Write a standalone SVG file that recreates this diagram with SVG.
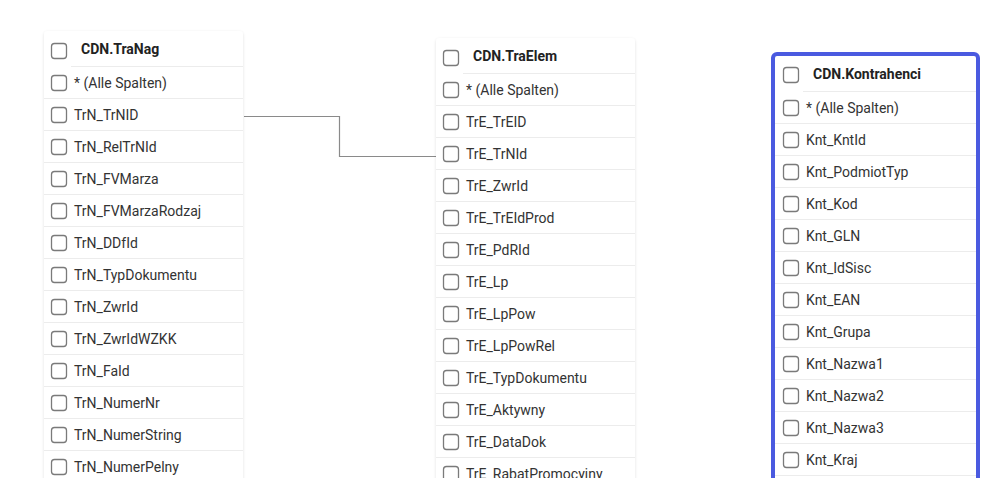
<svg xmlns="http://www.w3.org/2000/svg" width="993" height="485" viewBox="0 0 993 485">
<defs>
<filter id="sh" x="-10%" y="-10%" width="120%" height="120%">
<feDropShadow dx="0" dy="1" stdDeviation="1.5" flood-color="#000" flood-opacity="0.12"/>
</filter>
<clipPath id="view"><rect x="0" y="0" width="993" height="478"/></clipPath>
</defs>
<style>
.card{fill:#fff;filter:url(#sh)}
.sep{stroke:#ececec;stroke-width:1}
.cb{fill:#fff;stroke:#7a7a7a;stroke-width:1.3}
.t{font-family:Roboto,"Liberation Sans",sans-serif;font-size:14px;fill:#333}
.h{font-family:Roboto,"Liberation Sans",sans-serif;font-size:14px;font-weight:bold;fill:#222}
.conn{fill:none;stroke:#8a8a8a;stroke-width:1.2}
.sel{fill:none;stroke:#4a5ae0;stroke-width:4}
</style>
<rect width="993" height="485" fill="#fff"/>
<g clip-path="url(#view)">
<g id="connectors">
<path class="conn" d="M244 116.5 H339.5 V156.5 H436"/>
</g>
<g id="TraNag">
<rect class="card" x="44" y="31" width="199" height="470" rx="4"/>
<line class="sep" x1="71" y1="66.5" x2="243" y2="66.5"/>
<line class="sep" x1="44" y1="98.5" x2="243" y2="98.5"/>
<line class="sep" x1="44" y1="130.5" x2="243" y2="130.5"/>
<line class="sep" x1="44" y1="162.5" x2="243" y2="162.5"/>
<line class="sep" x1="44" y1="194.5" x2="243" y2="194.5"/>
<line class="sep" x1="44" y1="226.5" x2="243" y2="226.5"/>
<line class="sep" x1="44" y1="258.5" x2="243" y2="258.5"/>
<line class="sep" x1="44" y1="290.5" x2="243" y2="290.5"/>
<line class="sep" x1="44" y1="322.5" x2="243" y2="322.5"/>
<line class="sep" x1="44" y1="354.5" x2="243" y2="354.5"/>
<line class="sep" x1="44" y1="386.5" x2="243" y2="386.5"/>
<line class="sep" x1="44" y1="418.5" x2="243" y2="418.5"/>
<line class="sep" x1="44" y1="450.5" x2="243" y2="450.5"/>
<rect class="cb" x="51.5" y="43.5" width="15" height="15" rx="3"/>
<text class="h" x="81" y="54">CDN.TraNag</text>
<rect class="cb" x="51.5" y="75.5" width="15" height="15" rx="3"/><text class="t" x="74" y="88">* (Alle Spalten)</text>
<rect class="cb" x="51.5" y="107.5" width="15" height="15" rx="3"/><text class="t" x="74" y="120">TrN_TrNID</text>
<rect class="cb" x="51.5" y="139.5" width="15" height="15" rx="3"/><text class="t" x="74" y="152">TrN_RelTrNId</text>
<rect class="cb" x="51.5" y="171.5" width="15" height="15" rx="3"/><text class="t" x="74" y="184">TrN_FVMarza</text>
<rect class="cb" x="51.5" y="203.5" width="15" height="15" rx="3"/><text class="t" x="74" y="216">TrN_FVMarzaRodzaj</text>
<rect class="cb" x="51.5" y="235.5" width="15" height="15" rx="3"/><text class="t" x="74" y="248">TrN_DDfId</text>
<rect class="cb" x="51.5" y="267.5" width="15" height="15" rx="3"/><text class="t" x="74" y="280">TrN_TypDokumentu</text>
<rect class="cb" x="51.5" y="299.5" width="15" height="15" rx="3"/><text class="t" x="74" y="312">TrN_ZwrId</text>
<rect class="cb" x="51.5" y="331.5" width="15" height="15" rx="3"/><text class="t" x="74" y="344">TrN_ZwrIdWZKK</text>
<rect class="cb" x="51.5" y="363.5" width="15" height="15" rx="3"/><text class="t" x="74" y="376">TrN_FaId</text>
<rect class="cb" x="51.5" y="395.5" width="15" height="15" rx="3"/><text class="t" x="74" y="408">TrN_NumerNr</text>
<rect class="cb" x="51.5" y="427.5" width="15" height="15" rx="3"/><text class="t" x="74" y="440">TrN_NumerString</text>
<rect class="cb" x="51.5" y="459.5" width="15" height="15" rx="3"/><text class="t" x="74" y="472">TrN_NumerPelny</text>
</g>
<g id="TraElem">
<rect class="card" x="436" y="38" width="199" height="470" rx="4"/>
<line class="sep" x1="463" y1="73.5" x2="635" y2="73.5"/>
<line class="sep" x1="436" y1="105.5" x2="635" y2="105.5"/>
<line class="sep" x1="436" y1="137.5" x2="635" y2="137.5"/>
<line class="sep" x1="436" y1="169.5" x2="635" y2="169.5"/>
<line class="sep" x1="436" y1="201.5" x2="635" y2="201.5"/>
<line class="sep" x1="436" y1="233.5" x2="635" y2="233.5"/>
<line class="sep" x1="436" y1="265.5" x2="635" y2="265.5"/>
<line class="sep" x1="436" y1="297.5" x2="635" y2="297.5"/>
<line class="sep" x1="436" y1="329.5" x2="635" y2="329.5"/>
<line class="sep" x1="436" y1="361.5" x2="635" y2="361.5"/>
<line class="sep" x1="436" y1="393.5" x2="635" y2="393.5"/>
<line class="sep" x1="436" y1="425.5" x2="635" y2="425.5"/>
<line class="sep" x1="436" y1="457.5" x2="635" y2="457.5"/>
<rect class="cb" x="443.5" y="50.5" width="15" height="15" rx="3"/>
<text class="h" x="473" y="61">CDN.TraElem</text>
<rect class="cb" x="443.5" y="82.5" width="15" height="15" rx="3"/><text class="t" x="466" y="95">* (Alle Spalten)</text>
<rect class="cb" x="443.5" y="114.5" width="15" height="15" rx="3"/><text class="t" x="466" y="127">TrE_TrEID</text>
<rect class="cb" x="443.5" y="146.5" width="15" height="15" rx="3"/><text class="t" x="466" y="159">TrE_TrNId</text>
<rect class="cb" x="443.5" y="178.5" width="15" height="15" rx="3"/><text class="t" x="466" y="191">TrE_ZwrId</text>
<rect class="cb" x="443.5" y="210.5" width="15" height="15" rx="3"/><text class="t" x="466" y="223">TrE_TrEIdProd</text>
<rect class="cb" x="443.5" y="242.5" width="15" height="15" rx="3"/><text class="t" x="466" y="255">TrE_PdRId</text>
<rect class="cb" x="443.5" y="274.5" width="15" height="15" rx="3"/><text class="t" x="466" y="287">TrE_Lp</text>
<rect class="cb" x="443.5" y="306.5" width="15" height="15" rx="3"/><text class="t" x="466" y="319">TrE_LpPow</text>
<rect class="cb" x="443.5" y="338.5" width="15" height="15" rx="3"/><text class="t" x="466" y="351">TrE_LpPowRel</text>
<rect class="cb" x="443.5" y="370.5" width="15" height="15" rx="3"/><text class="t" x="466" y="383">TrE_TypDokumentu</text>
<rect class="cb" x="443.5" y="402.5" width="15" height="15" rx="3"/><text class="t" x="466" y="415">TrE_Aktywny</text>
<rect class="cb" x="443.5" y="434.5" width="15" height="15" rx="3"/><text class="t" x="466" y="447">TrE_DataDok</text>
<rect class="cb" x="443.5" y="466.5" width="15" height="15" rx="3"/><text class="t" x="466" y="479">TrE_RabatPromocyjny</text>
</g>
<g id="Kontrahenci">
<rect class="card" x="775" y="56" width="201" height="470" rx="2"/>
<line class="sep" x1="803" y1="91.5" x2="976" y2="91.5"/>
<line class="sep" x1="775" y1="123.5" x2="976" y2="123.5"/>
<line class="sep" x1="775" y1="155.5" x2="976" y2="155.5"/>
<line class="sep" x1="775" y1="187.5" x2="976" y2="187.5"/>
<line class="sep" x1="775" y1="219.5" x2="976" y2="219.5"/>
<line class="sep" x1="775" y1="251.5" x2="976" y2="251.5"/>
<line class="sep" x1="775" y1="283.5" x2="976" y2="283.5"/>
<line class="sep" x1="775" y1="315.5" x2="976" y2="315.5"/>
<line class="sep" x1="775" y1="347.5" x2="976" y2="347.5"/>
<line class="sep" x1="775" y1="379.5" x2="976" y2="379.5"/>
<line class="sep" x1="775" y1="411.5" x2="976" y2="411.5"/>
<line class="sep" x1="775" y1="443.5" x2="976" y2="443.5"/>
<line class="sep" x1="775" y1="475.5" x2="976" y2="475.5"/>
<rect class="cb" x="783.5" y="67.5" width="15" height="15" rx="3"/>
<text class="h" x="813" y="79">CDN.Kontrahenci</text>
<rect class="cb" x="783.5" y="100.5" width="15" height="15" rx="3"/><text class="t" x="806" y="113">* (Alle Spalten)</text>
<rect class="cb" x="783.5" y="132.5" width="15" height="15" rx="3"/><text class="t" x="806" y="145">Knt_KntId</text>
<rect class="cb" x="783.5" y="164.5" width="15" height="15" rx="3"/><text class="t" x="806" y="177">Knt_PodmiotTyp</text>
<rect class="cb" x="783.5" y="196.5" width="15" height="15" rx="3"/><text class="t" x="806" y="209">Knt_Kod</text>
<rect class="cb" x="783.5" y="228.5" width="15" height="15" rx="3"/><text class="t" x="806" y="241">Knt_GLN</text>
<rect class="cb" x="783.5" y="260.5" width="15" height="15" rx="3"/><text class="t" x="806" y="273">Knt_IdSisc</text>
<rect class="cb" x="783.5" y="292.5" width="15" height="15" rx="3"/><text class="t" x="806" y="305">Knt_EAN</text>
<rect class="cb" x="783.5" y="324.5" width="15" height="15" rx="3"/><text class="t" x="806" y="337">Knt_Grupa</text>
<rect class="cb" x="783.5" y="356.5" width="15" height="15" rx="3"/><text class="t" x="806" y="369">Knt_Nazwa1</text>
<rect class="cb" x="783.5" y="388.5" width="15" height="15" rx="3"/><text class="t" x="806" y="401">Knt_Nazwa2</text>
<rect class="cb" x="783.5" y="420.5" width="15" height="15" rx="3"/><text class="t" x="806" y="433">Knt_Nazwa3</text>
<rect class="cb" x="783.5" y="452.5" width="15" height="15" rx="3"/><text class="t" x="806" y="465">Knt_Kraj</text>
<rect class="sel" x="773" y="54" width="205" height="480" rx="4"/>
</g>
</g>
</svg>
